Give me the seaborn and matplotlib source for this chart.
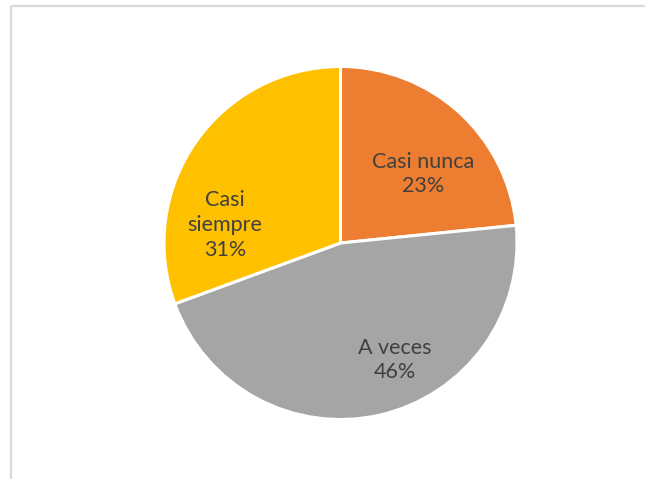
import matplotlib
matplotlib.use("Agg")
import matplotlib.pyplot as plt
import seaborn as sns

# datos del gráfico (porcentajes estimados de los ángulos de la imagen)
categorias = ["Casi nunca", "A veces", "Casi siempre"]
porcentajes = [23.4, 46.0, 30.6]
etiquetas = ["Casi nunca\n23%", "A veces\n46%", "Casi\nsiempre\n31%"]
colores = ["#ED7D31", "#A5A5A5", "#FFC000"]

W, H = 655, 479


def main():
    sns.set_theme(style="white")
    plt.rcParams["font.family"] = ["Lato", "DejaVu Sans"]

    fig = plt.figure(figsize=(W / 100, H / 100), dpi=100)
    ax = fig.add_axes([0, 0, 1, 1])

    # marco del área del gráfico (solo arriba e izquierda visibles)
    ax.plot([10.5, 645], [H - 5.5, H - 5.5], color="#D9D9D9", lw=1.6,
            solid_capstyle="butt")
    ax.plot([10.5, 10.5], [H - 5.5, 0], color="#D9D9D9", lw=1.6,
            solid_capstyle="butt")

    ax.pie(porcentajes, colors=sns.color_palette(colores),
           startangle=90, counterclock=False,
           center=(340.5, H - 243), radius=176.5,
           wedgeprops=dict(edgecolor="white", linewidth=2.2),
           frame=True)
    ax.set_xlim(0, W)
    ax.set_ylim(0, H)
    ax.set_aspect("equal")
    ax.axis("off")

    # posiciones de las etiquetas (en píxeles de la imagen)
    pos = [(423, 174), (395, 360), (225, 225)]
    for txt, (x, y) in zip(etiquetas, pos):
        ax.text(x, H - y, txt, ha="center", va="center", fontsize=15.5,
                color="#404040", linespacing=1.3, multialignment="center")

    fig.savefig("out.png", dpi=100, facecolor="white")


if __name__ == "__main__":
    main()
